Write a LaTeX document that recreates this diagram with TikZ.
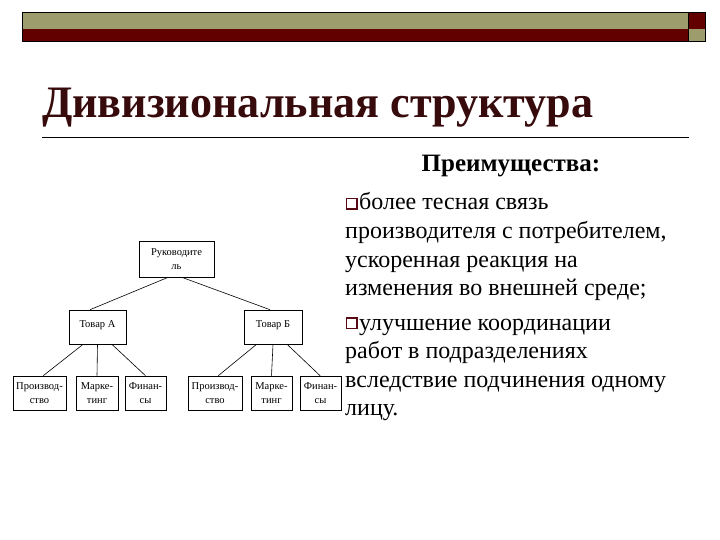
\documentclass[tikz,border=0pt]{standalone}
\usepackage{fontspec}
\setmainfont{Liberation Serif}
\usetikzlibrary{calc}
\definecolor{olivebar}{RGB}{156,156,108}
\definecolor{redbar}{RGB}{98,0,0}
\definecolor{titlecol}{RGB}{55,10,12}
\definecolor{bulletcol}{RGB}{90,10,20}
\tikzset{
  box/.style={draw, line width=0.6pt, inner sep=0pt, align=center,
    font=\fontsize{10.5}{14.5}\selectfont},
  link/.style={line width=0.6pt},
  bodytext/.style={anchor=base west, inner sep=0pt, font=\fontsize{24}{28}\selectfont},
}
\begin{document}
\begin{tikzpicture}[x=1pt,y=-1pt]
\useasboundingbox (0,0) rectangle (720,540);
% top bar
\fill[olivebar] (22,12) rectangle (688,29);
\fill[redbar] (22,29) rectangle (688,41);
\fill[redbar] (688,12) rectangle (705,29);
\fill[olivebar] (688,29) rectangle (705,41);
\draw[line width=0.8pt] (22,12) rectangle (705,41);
\draw[line width=0.5pt] (688,12) -- (688,41);
% title
\node[anchor=base west, inner sep=0pt, text=titlecol, xscale=0.98,
  font=\fontsize{45}{50}\selectfont\bfseries] (title) at (42,118) {Дивизиональная структура};
\draw[line width=0.7pt] (42,137.5) -- (689,137.5);
% right text
\node[anchor=base, inner sep=0pt, font=\fontsize{25}{28}\selectfont\bfseries] (adv) at (511,172) {Преимущества:};
\draw[bulletcol, line width=1.2pt] (346.5,198.5) rectangle (357,209);
\node[bodytext] (l1) at (359,210) {более тесная связь};
\node[bodytext] (l2) at (345,238.5) {производителя с потребителем,};
\node[bodytext] (l3) at (345,267) {ускоренная реакция на};
\node[bodytext] (l4) at (345,295.5) {изменения во внешней среде;};
\draw[bulletcol, line width=1.2pt] (346.5,318) rectangle (357,328.5);
\node[bodytext] (l5) at (359,330) {улучшение координации};
\node[bodytext] (l6) at (345,358.5) {работ в подразделениях};
\node[bodytext] (l7) at (345,387) {вследствие подчинения одному};
\node[bodytext] (l8) at (345,415.5) {лицу.};
% diagram
\node[box, minimum width=75pt, minimum height=36pt] (ruk) at (176.5,259) {Руководите\\ль};
\node[box, minimum width=57pt, minimum height=34pt] (ta) at (97.5,327) {\raisebox{6pt}{Товар А}};
\node[box, minimum width=58pt, minimum height=34pt] (tb) at (273,327) {\raisebox{6pt}{Товар Б}};
\node[box, minimum width=53pt, minimum height=34pt] (p1) at (39.5,393) {Производ-\\ство};
\node[box, minimum width=42pt, minimum height=34pt] (m1) at (97,393) {Марке-\\тинг};
\node[box, minimum width=41pt, minimum height=34pt] (f1) at (145.5,393) {Финан-\\сы};
\node[box, minimum width=54pt, minimum height=34pt] (p2) at (215,393) {Производ-\\ство};
\node[box, minimum width=41pt, minimum height=34pt] (m2) at (271.5,393) {Марке-\\тинг};
\node[box, minimum width=41pt, minimum height=34pt] (f2) at (320.5,393) {Финан-\\сы};
\draw[link] ($(ruk.south west)!0.39!(ruk.south east)$) -- ($(ta.north west)!0.37!(ta.north east)$);
\draw[link] ($(ruk.south west)!0.57!(ruk.south east)$) -- ($(tb.north west)!0.45!(tb.north east)$);
\draw[link] ($(ta.south west)!0.25!(ta.south east)$) -- ($(p1.north west)!0.57!(p1.north east)$);
\draw[link] (ta.south) -- (m1.north);
\draw[link] ($(ta.south west)!0.75!(ta.south east)$) -- ($(f1.north west)!0.5!(f1.north east)$);
\draw[link] ($(tb.south west)!0.22!(tb.south east)$) -- ($(p2.north west)!0.56!(p2.north east)$);
\draw[link] (tb.south) -- (m2.north);
\draw[link] ($(tb.south west)!0.74!(tb.south east)$) -- ($(f2.north west)!0.49!(f2.north east)$);
\end{tikzpicture}
\end{document}
